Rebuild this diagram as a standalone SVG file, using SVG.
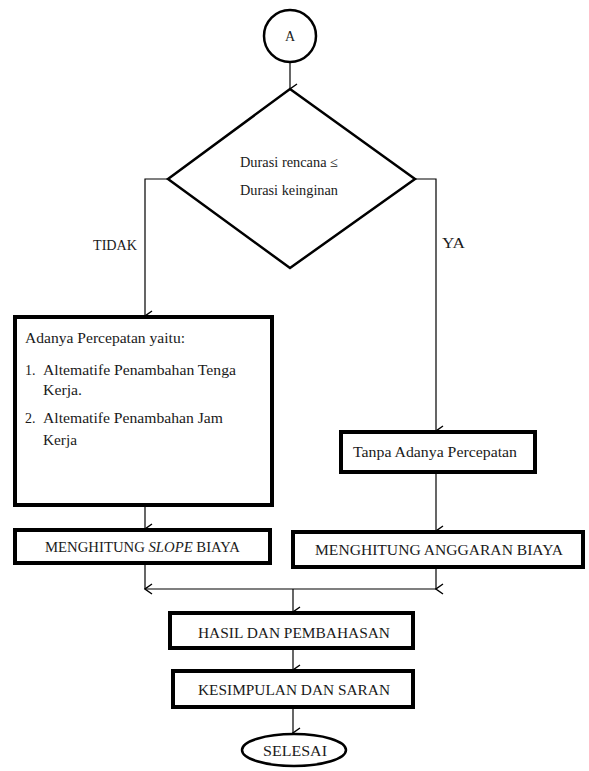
<svg xmlns="http://www.w3.org/2000/svg" width="589" height="771" viewBox="0 0 589 771" font-family="'Liberation Serif', 'DejaVu Serif', serif">
<style>
text{font-family:'Liberation Serif','DejaVu Serif',serif;fill:#1a1a1a;font-size:14px}
.thick{fill:#fff;stroke:#000;stroke-width:4}
.med{fill:#fff;stroke:#000;stroke-width:2.5}
.conn{fill:none;stroke:#000;stroke-width:1.2}
.c{text-anchor:middle}
</style>
<defs>
<marker id="arr" markerWidth="12" markerHeight="12" viewBox="0 0 12 12" refX="6" refY="11" orient="auto-start-reverse" markerUnits="userSpaceOnUse">
<polyline points="1,4 6,11 11,4" fill="none" stroke="#000" stroke-width="1.4"/>
</marker>
</defs>
<rect width="589" height="771" fill="#fff"/>
<g id="connectors">
<line class="conn" x1="290" y1="62" x2="290" y2="89" marker-end="url(#arr)"/>
<polyline class="conn" points="168,179 145,179 145,316" marker-end="url(#arr)"/>
<polyline class="conn" points="415,179 436,179 436,431" marker-end="url(#arr)"/>
<line class="conn" x1="145" y1="505" x2="145" y2="529" marker-end="url(#arr)"/>
<line class="conn" x1="436" y1="472" x2="436" y2="531" marker-end="url(#arr)"/>
<line class="conn" x1="145" y1="563" x2="145" y2="589" marker-end="url(#arr)"/>
<line class="conn" x1="436" y1="567" x2="436" y2="589" marker-end="url(#arr)"/>
<line class="conn" x1="145" y1="589" x2="436" y2="589"/>
<line class="conn" x1="293" y1="589" x2="293" y2="612" marker-end="url(#arr)"/>
<line class="conn" x1="293" y1="648" x2="293" y2="670" marker-end="url(#arr)"/>
<line class="conn" x1="293" y1="707" x2="293" y2="733" marker-end="url(#arr)"/>
<text x="93" y="250" textLength="44" lengthAdjust="spacingAndGlyphs">TIDAK</text>
<text x="442" y="248" textLength="23" lengthAdjust="spacingAndGlyphs">YA</text>
</g>
<g id="start">
<circle cx="290" cy="36" r="26" class="med" stroke-width="2"/>
<text x="290" y="41" class="c" font-size="15">A</text>
</g>
<g id="decision">
<polygon points="290,89 415,179 290,268 168,179" class="med"/>
<text x="240" y="167" textLength="98" lengthAdjust="spacingAndGlyphs" font-size="13">Durasi rencana ≤</text>
<text x="240" y="195" textLength="98" lengthAdjust="spacingAndGlyphs" font-size="13">Durasi keinginan</text>
</g>
<g id="percepatan">
<rect x="15" y="317" width="257" height="188" class="thick"/>
<text x="25" y="343" textLength="160" lengthAdjust="spacingAndGlyphs" font-size="15">Adanya Percepatan yaitu:</text>
<text x="25" y="375" font-size="15">1.</text>
<text x="43" y="375" textLength="193" lengthAdjust="spacingAndGlyphs" font-size="15">Altematife Penambahan Tenga</text>
<text x="43" y="395" textLength="39" lengthAdjust="spacingAndGlyphs" font-size="15">Kerja.</text>
<text x="25" y="423" font-size="15">2.</text>
<text x="43" y="423" textLength="180" lengthAdjust="spacingAndGlyphs" font-size="15">Altematife Penambahan Jam</text>
<text x="43" y="445" textLength="34" lengthAdjust="spacingAndGlyphs" font-size="15">Kerja</text>
</g>
<g id="tanpa">
<rect x="341" y="432" width="194" height="40" class="thick"/>
<text x="353" y="457" textLength="164" lengthAdjust="spacingAndGlyphs" font-size="15">Tanpa Adanya Percepatan</text>
</g>
<g id="slope">
<rect x="15" y="530" width="255" height="33" class="thick"/>
<text x="45" y="552" textLength="195" lengthAdjust="spacingAndGlyphs">MENGHITUNG <tspan font-style="italic">SLOPE</tspan>  BIAYA</text>
</g>
<g id="anggaran">
<rect x="293" y="532" width="290" height="35" class="thick"/>
<text x="315" y="555" textLength="248" lengthAdjust="spacingAndGlyphs" font-size="15">MENGHITUNG ANGGARAN BIAYA</text>
</g>
<g id="hasil">
<rect x="170" y="613" width="243" height="35" class="thick"/>
<text x="198" y="638" textLength="192" lengthAdjust="spacingAndGlyphs">HASIL DAN PEMBAHASAN</text>
</g>
<g id="kesimpulan">
<rect x="173" y="671" width="240" height="36" class="thick"/>
<text x="198" y="695" textLength="192" lengthAdjust="spacingAndGlyphs">KESIMPULAN DAN SARAN</text>
</g>
<g id="selesai">
<ellipse cx="294" cy="750" rx="52" ry="16" class="med" stroke-width="2"/>
<text x="263" y="756" textLength="64" lengthAdjust="spacingAndGlyphs">SELESAI</text>
</g>
</svg>
